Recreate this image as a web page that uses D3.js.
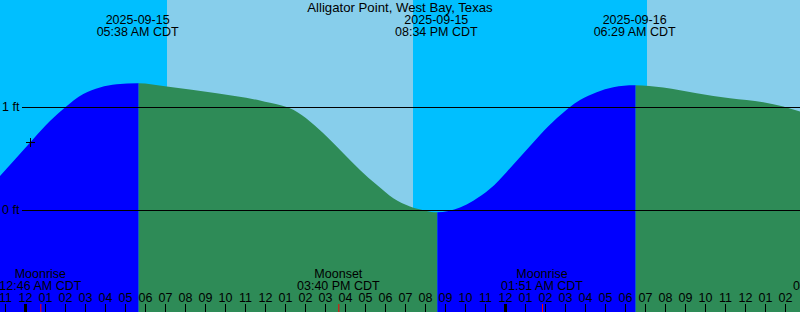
<!DOCTYPE html>
<html>
<head>
<meta charset="utf-8">
<script src="https://cdn.jsdelivr.net/npm/d3@7"></script>
<style>
  html, body { margin: 0; padding: 0; background: #fff; }
  svg { display: block; font-family: "Liberation Sans", Arial, sans-serif; }
  .lbl { font-size: 12.5px; fill: #000; }
  .axis text { font-size: 12.5px; fill: #000; font-family: "Liberation Sans", Arial, sans-serif; }
  .axis line { stroke: #000; }
</style>
</head>
<body>
<svg id="chart" width="800" height="312"></svg>
<script>
/* ── Data (hours counted from 2025-09-15 00:00 CDT) ───────────────────── */
const TITLE = 'Alligator Point, West Bay, Texas';
const HOUR_START = -1.25, HOUR_END = 38.75;

// tide curve
const tideHours = [-1.25, -0.415, 0.415, 1.25, 2.0, 2.915, 3.75, 4.585, 5.633,
  7.085, 9.585, 11.75, 12.25, 13.415, 14.25, 15.085, 15.915, 16.75, 17.585, 18.415,
  19.25, 20.085, 20.567, 21.75, 22.415, 23.25, 24.085, 24.915, 25.75, 26.585, 27.75,
  28.585, 29.415, 30.483, 31.915, 33.585, 35.25, 36.915, 37.915, 38.75];
const tideFeet = [0.336, 0.515, 0.695, 0.868, 1.0, 1.13, 1.195, 1.226, 1.236,
  1.204, 1.139, 1.068, 1.045, 0.977, 0.864, 0.718, 0.556, 0.394, 0.249, 0.119,
  0.039, -0.004, -0.017, 0.03, 0.095, 0.21, 0.375, 0.553, 0.733, 0.895, 1.074,
  1.149, 1.197, 1.216, 1.194, 1.139, 1.09, 1.051, 1.01, 0.961];

// high / low tide events
const tideEventHours = [5.633, 20.567, 30.483];
const tideEventTypes = ['high', 'low', 'high'];
const tideEventDates = ['2025-09-15', '2025-09-15', '2025-09-16'];
const tideEventTimes = ['05:38 AM CDT', '08:34 PM CDT', '06:29 AM CDT'];

// sun: daylight is the lighter band
const sunEventHours = [7.085, 19.385, 31.085];
const sunEventTypes = ['rise', 'set', 'rise'];

// moon
const moonEventHours = [0.767, 15.667, 25.85, 40.467];
const moonEventNames = ['Moonrise', 'Moonset', 'Moonrise', 'Moonset'];
const moonEventTimes = ['12:46 AM CDT', '03:40 PM CDT', '01:51 AM CDT', '04:28 PM CDT'];

// y reference lines
const levelFeet = [1, 0];
const levelLabels = ['1 ft', '0 ft'];

// "+" marker on the curve
const markHour = 0.25, markFeet = 0.66;

/* ── Colours ──────────────────────────────────────────────────────────── */
const C = { night: '#00bfff', day: '#87ceeb', flood: '#0000ff', ebb: '#2e8b57', red: '#ff0000' };

/* ── Setup ────────────────────────────────────────────────────────────── */
const W = 800, H = 312;
const svg = d3.select('#chart');
const x = d3.scaleLinear().domain([HOUR_START, HOUR_END]).range([0, W]);
const y = d3.scaleLinear().domain([0, 1]).range([210.5, 107.5]);

/* ── Day / night background ───────────────────────────────────────────── */
const sunEdges = [HOUR_START, ...sunEventHours, HOUR_END];
const sunBands = d3.range(sunEdges.length - 1).map(i => ({
  a: sunEdges[i], b: sunEdges[i + 1],
  day: i < sunEventTypes.length ? sunEventTypes[i] === 'set' : sunEventTypes[i - 1] === 'rise'
}));
svg.append('g').selectAll('rect').data(sunBands).join('rect')
  .attr('x', d => x(d.a)).attr('width', d => x(d.b) - x(d.a))
  .attr('y', 0).attr('height', H)
  .attr('fill', d => d.day ? C.day : C.night)
  .attr('shape-rendering', 'crispEdges');

/* ── Tide area, coloured by rising / falling ──────────────────────────── */
const pts = tideHours.map((h, i) => [h, tideFeet[i]]);
const area = d3.area().x(d => x(d[0])).y0(H).y1(d => y(d[1])).curve(d3.curveMonotoneX);
const tideEdges = [HOUR_START, ...tideEventHours, HOUR_END];
const defs = svg.append('defs');
const gTide = svg.append('g');
d3.range(tideEdges.length - 1).forEach(i => {
  const rising = i < tideEventTypes.length ? tideEventTypes[i] === 'high' : tideEventTypes[i - 1] === 'low';
  const x0 = i === 0 ? 0 : x(tideEdges[i]) + 1;
  const x1 = i === tideEdges.length - 2 ? W : x(tideEdges[i + 1]) + 1;
  defs.append('clipPath').attr('id', 'seg' + i)
    .append('rect').attr('x', x0).attr('y', 0).attr('width', x1 - x0).attr('height', H);
  gTide.append('path').datum(pts)
    .attr('d', area)
    .attr('fill', rising ? C.flood : C.ebb)
    .attr('clip-path', `url(#seg${i})`);
});

/* ── Level lines ──────────────────────────────────────────────────────── */
levelFeet.forEach((f, i) => {
  svg.append('line').attr('x1', 22).attr('x2', W).attr('y1', y(f)).attr('y2', y(f))
    .attr('stroke', '#000').attr('stroke-width', 1);
  svg.append('text').attr('class', 'lbl').attr('x', 2).attr('y', y(f) + 3.5).text(levelLabels[i]);
});

/* ── Marker ───────────────────────────────────────────────────────────── */
const mx = x(markHour), my = y(markFeet);
svg.append('path').attr('d', `M${mx - 4},${my}H${mx + 5}M${mx + 0.5},${my - 4.5}V${my + 4.5}`)
  .attr('stroke', '#000').attr('fill', 'none');

/* ── Title + tide event labels ────────────────────────────────────────── */
svg.append('text').attr('class', 'lbl').attr('x', W / 2).attr('y', 12)
  .attr('text-anchor', 'middle').style('font-size', '13.2px').text(TITLE);
const gEv = svg.append('g').attr('text-anchor', 'middle');
tideEventHours.forEach((h, i) => {
  gEv.append('text').attr('class', 'lbl').attr('x', x(h)).attr('y', 24).text(tideEventDates[i]);
  gEv.append('text').attr('class', 'lbl').attr('x', x(h)).attr('y', 36).text(tideEventTimes[i]);
});

/* ── Moon labels ──────────────────────────────────────────────────────── */
moonEventHours.forEach((h, i) => {
  gEv.append('text').attr('class', 'lbl').attr('x', x(h)).attr('y', 278).text(moonEventNames[i]);
  gEv.append('text').attr('class', 'lbl').attr('x', x(h)).attr('y', 290).text(moonEventTimes[i]);
});

/* ── Hour axis ────────────────────────────────────────────────────────── */
const hourTicks = d3.range(Math.ceil(HOUR_START), Math.floor(HOUR_END) + 1);
const hh = h => { const k = ((h % 24) + 24) % 24 % 12; return String(k === 0 ? 12 : k).padStart(2, '0'); };
const axis = svg.append('g').attr('class', 'axis').attr('transform', `translate(0,${H})`)
  .call(d3.axisTop(x).tickValues(hourTicks).tickFormat(hh).tickSizeInner(8).tickSizeOuter(0).tickPadding(2));
axis.select('.domain').remove();
axis.selectAll('.tick').filter(h => ((h % 24) + 24) % 24 === 0)
  .select('line').attr('stroke-width', 3);

// moon event ticks in red
svg.append('g').selectAll('line').data(moonEventHours).join('line')
  .attr('x1', h => x(h) + 0.5).attr('x2', h => x(h) + 0.5)
  .attr('y1', H - 8).attr('y2', H)
  .attr('stroke', C.red);
</script>
</body>
</html>
